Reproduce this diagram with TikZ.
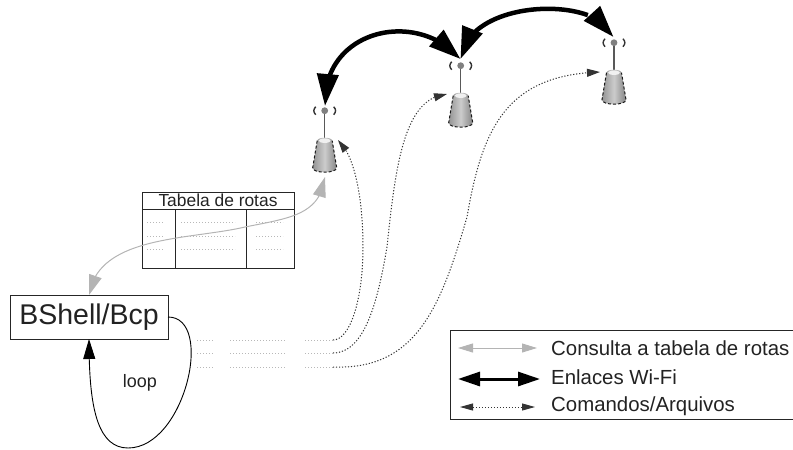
\documentclass[tikz,border=0pt]{standalone}
\usepackage{fontspec}
\setmainfont{Liberation Sans}
\usetikzlibrary{arrows.meta,bending}
\definecolor{txt}{HTML}{222222}
\definecolor{grayarrow}{HTML}{B4B4B4}
\definecolor{dotarrow}{HTML}{333333}
\definecolor{paledot}{HTML}{B8B8B8}
\tikzset{
  pxfont/.style={font=\fontsize{#1}{#1}\selectfont,text=txt,inner sep=0pt},
  boxline/.style={draw=black!85,line width=0.9pt},
  wifi/.style={line width=4.5pt,black,{Triangle[length=32pt,width=21pt,flex=0.7]}-{Triangle[length=32pt,width=21pt,flex=0.7]}},
  wifilegend/.style={line width=3pt,black,{Triangle[length=22pt,width=14pt]}-{Triangle[length=22pt,width=14pt]}},
  consult/.style={line width=1pt,grayarrow,{Triangle[length=20pt,width=13pt,flex]}-{Triangle[length=20pt,width=13pt,flex]}},
  consultlegend/.style={line width=1pt,grayarrow,{Triangle[length=15pt,width=9pt]}-{Triangle[length=15pt,width=9pt]}},
  cmd/.style={line width=1pt,dotarrow,dash pattern=on 1.2pt off 1.8pt,-{Triangle[length=13pt,width=8pt,flex]}},
  cmdlegend/.style={line width=0.9pt,dotarrow,dash pattern=on 1.2pt off 1.8pt,{Triangle[length=13pt,width=7pt]}-{Triangle[length=13pt,width=7pt]}},
  pale/.style={line width=0.8pt,paledot,dash pattern=on 1.2pt off 1.8pt},
  routericon/.pic={
    \draw[line width=1.3pt,black!65] (0,3) -- (0,30);
    \path[left color=black!42,right color=black!48,middle color=black!20]
      (-7.5,30) -- (-12,57) .. controls (-12,63) and (12,63) .. (12,57) -- (7.5,30) .. controls (7,26) and (-7,26) .. (-7.5,30) -- cycle;
    \fill[black!6] (0,30) ellipse (6 and 2.2);
    \draw[line width=1pt,black!90,dash pattern=on 3pt off 2pt]
      (-7.5,30) -- (-12,57) .. controls (-12,63) and (12,63) .. (12,57) -- (7.5,30);
    \fill[black!50] (0,0) circle (3.4);
    \draw[line width=1.4pt,black!80] (-9,-4) .. controls (-11.5,-1) and (-11.5,1) .. (-9,4);
    \draw[line width=1.4pt,black!80] (9,-4) .. controls (11.5,-1) and (11.5,1) .. (9,4);
  }
}
\begin{document}
\begin{tikzpicture}[x=1pt,y=-1pt]
\useasboundingbox (0,0) rectangle (793,450);
% routers
\coordinate (r1) at (324.7,110.7);
\coordinate (r2) at (460.7,65.7);
\coordinate (r3) at (614,42.7);
\pic at (r1) {routericon};
\pic at (r2) {routericon};
\pic at (r3) {routericon};
\coordinate (r1top) at (325,106);
\coordinate (r2top) at (460.5,59);
\coordinate (r3top) at (613.5,37);
\coordinate (r1foot) at (325,177);
\coordinate (r1side) at (338,140);
\coordinate (r2side) at (447,94);
\coordinate (r3side) at (600,72);
% table
\node[boxline,minimum width=152pt,minimum height=17pt,inner sep=0pt,pxfont=17.4] (tabhead) at (218,200.5) {Tabela de rotas};
\node[boxline,minimum width=152pt,minimum height=59pt,inner sep=0pt,anchor=north] (tabbody) at (tabhead.south) {};
\coordinate (c1t) at (175,209.5); \coordinate (c1b) at (175,268);
\coordinate (c2t) at (246,209.5); \coordinate (c2b) at (246,268);
\draw[boxline] (c1t) -- (c1b);
\draw[boxline] (c2t) -- (c2b);
\foreach \yy in {222,236,249}{
  \coordinate (a1) at (147,\yy); \coordinate (a2) at (164,\yy);
  \coordinate (b1) at (181,\yy); \coordinate (b2) at (235,\yy);
  \coordinate (d1) at (256,\yy); \coordinate (d2) at (283,\yy);
  \draw[pale] (a1) -- (a2);
  \draw[pale] (b1) -- (b2);
  \draw[pale] (d1) -- (d2);
}
% BShell
\node[boxline,minimum width=158pt,minimum height=44pt,inner sep=0pt,pxfont=28.5] (bshell) at (89,317) {BShell/Bcp};
% wifi
\draw[wifi] (r1top) .. controls (322,30) and (416,8) .. (r2top);
\draw[wifi] (r2top) .. controls (468,-2) and (600,-5) .. (r3top);
% gray
\coordinate (bsTop) at (89,295);
\draw[consult] (bsTop) .. controls (98,235) and (190,240) .. (245,227) .. controls (290,218) and (320,215) .. (r1foot);
% dotted stubs
\foreach \n/\yy in {1/340,2/353,3/367}{
  \coordinate (s\n a) at (197,\yy); \coordinate (s\n b) at (214,\yy);
  \coordinate (s\n c) at (230,\yy); \coordinate (s\n d) at (285,\yy);
  \coordinate (s\n e) at (305,\yy); \coordinate (s\n f) at (333,\yy);
  \draw[pale] (s\n a) -- (s\n b);
  \draw[pale] (s\n c) -- (s\n d);
  \draw[pale] (s\n e) -- (s\n f);
}
\draw[cmd] (s1f) .. controls (350,340) and (363,300) .. (363,247) .. controls (363,200) and (355,155) .. (r1side);
\draw[cmd] (s2f) .. controls (365,353) and (378,300) .. (387,247) .. controls (396,160) and (405,98) .. (r2side);
\draw[cmd] (s3f) .. controls (415,370) and (440,310) .. (467,217) .. controls (482,130) and (505,75) .. (r3side);
% loop
\coordinate (bsRight) at (168,317);
\coordinate (bsBot) at (89,339);
\draw[line width=0.9pt,black,-{Triangle[length=20pt,width=12pt,flex]}] (bsRight) .. controls (215,317) and (185,448) .. (128,448) .. controls (95,448) and (89,400) .. (bsBot);
\node[pxfont=18] (looplab) at (140,383) {loop};
% legend
\coordinate (l1) at (793,330); \coordinate (l2) at (450,330); \coordinate (l3) at (450,419); \coordinate (l4) at (793,419);
\draw[boxline] (l1) -- (l2) -- (l3) -- (l4);
\coordinate (g1) at (458,348); \coordinate (g2) at (537,348);
\coordinate (h1) at (458,379); \coordinate (h2) at (540,379);
\coordinate (i1) at (460,407); \coordinate (i2) at (535,407);
\draw[consultlegend] (g1) -- (g2);
\draw[wifilegend] (h1) -- (h2);
\draw[cmdlegend] (i1) -- (i2);
\node[pxfont=20.4,anchor=west] (t1) at (551,348) {Consulta a tabela de rotas};
\node[pxfont=20.4,anchor=west] (t2) at (551,377) {Enlaces Wi-Fi};
\node[pxfont=20.4,anchor=west] (t3) at (551,406) {Comandos/Arquivos};
\end{tikzpicture}
\end{document}
